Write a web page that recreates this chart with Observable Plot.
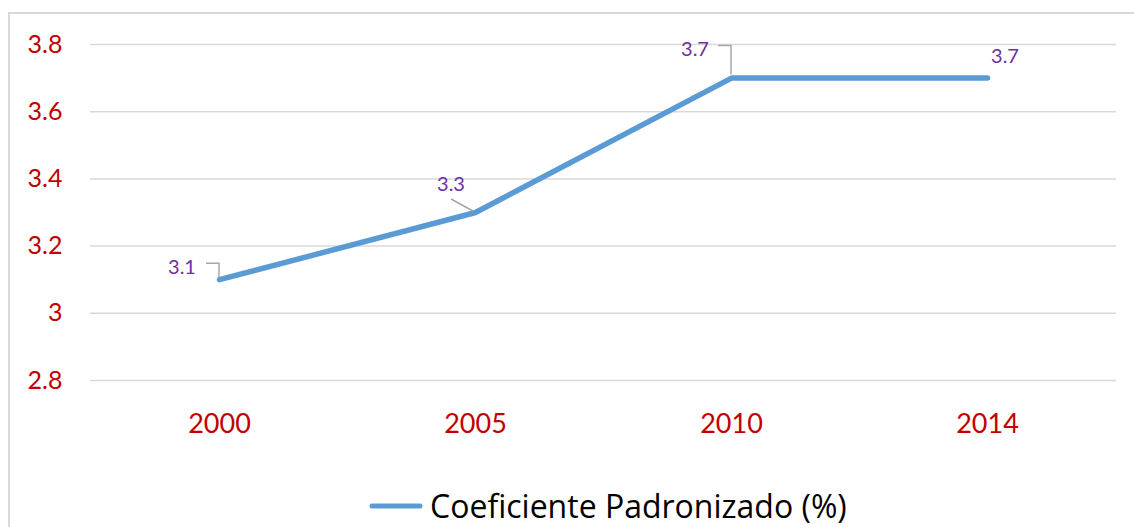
<!DOCTYPE html>
<html><head><meta charset="utf-8">
<script src="https://cdn.jsdelivr.net/npm/d3@7"></script>
<script src="https://cdn.jsdelivr.net/npm/@observablehq/plot@0.6"></script>
<style>
body{margin:0;background:#fff;font-family:Lato,"Open Sans",sans-serif}
#wrap{position:relative;width:1134px;height:527px;overflow:hidden;background:#fff}
#frame{position:absolute;left:8px;top:12px;width:1200px;height:600px;border-top:2px solid #d9d9d9;border-left:2px solid #d9d9d9}
#chart{position:absolute;left:0;top:0}
#legend{position:absolute;left:368px;top:486px;height:40px;display:flex;align-items:center;font-family:"Open Sans",sans-serif;font-size:32px;color:#000;white-space:nowrap;line-height:1}
#legend svg{margin-right:6px}
</style>
</head><body>
<div id="wrap"><div id="frame"></div><div id="chart"></div><div id="legend"></div></div>
<script>
const years = ["2000", "2005", "2010", "2014"];
const values = [3.1, 3.3, 3.7, 3.7];
const yTicks = [2.8, 3, 3.2, 3.4, 3.6, 3.8];
const seriesName = "Coeficiente Padronizado (%)";

const data = years.map((year, i) => ({year, value: values[i]}));

// label placement (pixel offsets from the point) and leader line shapes
const labelLayout = [
  {lx: -37, ly: -13, leader: [[-13, -16], [0, -16], [0, -2]]},
  {lx: -24, ly: -29, leader: [[-24, -13], [-2, -1]]},
  {lx: -36, ly: -30, leader: [[-13, -32], [0, -32], [0, -3]]},
  {lx: 18, ly: -23, leader: null}
];

const labelMark = Plot.dot(data, {
  x: "year", y: "value",
  render: (index, scales, values, dims, context) => {
    const g = d3.create("svg:g");
    for (const i of index) {
      const px = values.x[i], py = values.y[i];
      const L = labelLayout[i];
      if (L.leader) {
        g.append("path")
          .attr("d", d3.line()(L.leader.map(([dx, dy]) => [px + dx, py + dy])))
          .attr("fill", "none").attr("stroke", "#a6a6a6").attr("stroke-width", 1.5);
      }
      g.append("text")
        .attr("x", px + L.lx).attr("y", py + L.ly)
        .attr("text-anchor", "middle").attr("dominant-baseline", "central")
        .attr("fill", "#7030A0").attr("font-size", 20).attr("font-family", "Lato, sans-serif")
        .text(String(data[i].value));
    }
    return g.node();
  }
});

const chart = Plot.plot({
  width: 1134, height: 455,
  marginLeft: 90, marginRight: 18, marginTop: 44, marginBottom: 75,
  x: {type: "point", domain: years, padding: 0.5, label: null},
  y: {domain: [2.8, 3.8], label: null},
  style: {fontFamily: "Lato, sans-serif", background: "transparent", overflow: "visible"},
  marks: [
    Plot.gridY(yTicks, {stroke: "#d9d9d9", strokeOpacity: 1, strokeWidth: 1.5}),
    Plot.axisY(yTicks, {tickSize: 0, tickPadding: 28, fontSize: 25, fill: "#C00000", label: null, tickFormat: d => String(d)}),
    Plot.axisX({tickSize: 0, tickPadding: 33, fontSize: 27, fill: "#C00000", label: null}),
    Plot.line(data, {x: "year", y: "value", stroke: "#5B9BD5", strokeWidth: 5.5, strokeLinecap: "round", strokeLinejoin: "round"}),
    labelMark
  ]
});
document.getElementById("chart").appendChild(chart);

const legend = document.getElementById("legend");
legend.innerHTML = `<svg width="56" height="10"><line x1="4" y1="5" x2="52" y2="5" stroke="#5B9BD5" stroke-width="5" stroke-linecap="round"/></svg><span></span>`;
legend.querySelector("span").textContent = seriesName;
</script>
</body></html>
